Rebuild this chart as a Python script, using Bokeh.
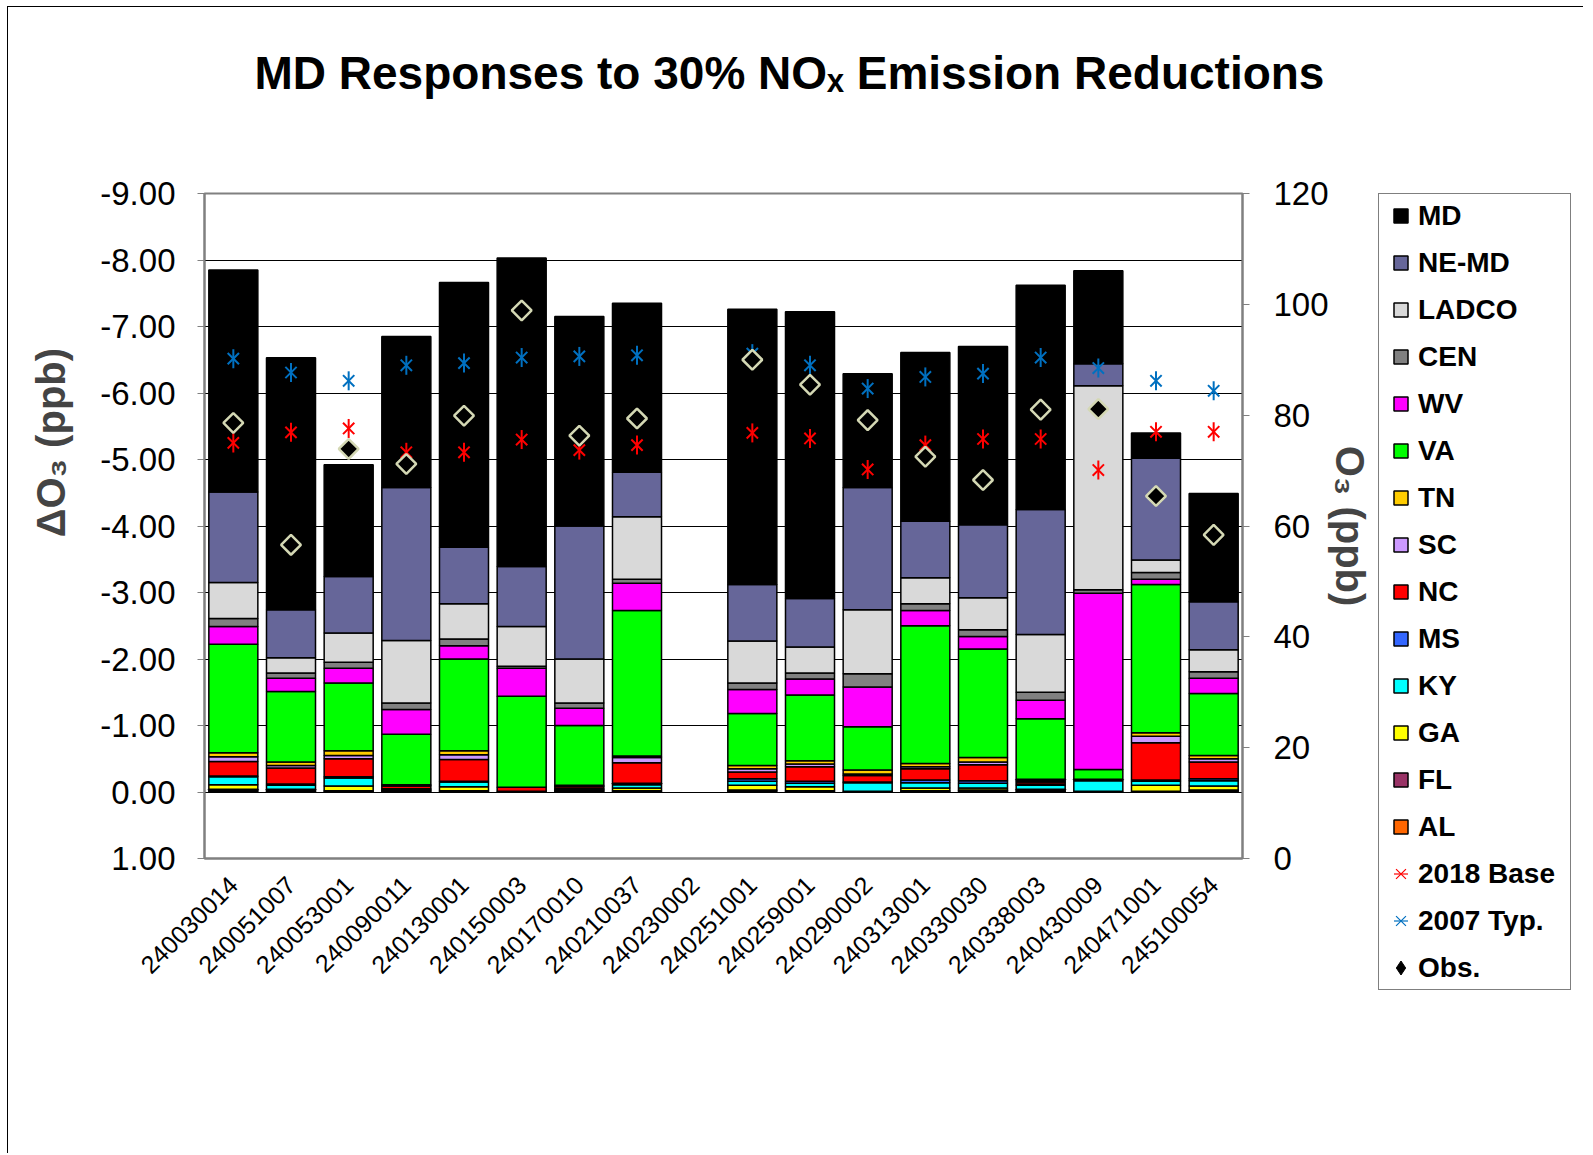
import numpy as np
from math import pi
from bokeh.plotting import figure
from bokeh.layouts import row
from bokeh.models import (Range1d, LinearAxis, Legend, LegendItem, Title,
                          NumeralTickFormatter, FixedTicker, ColumnDataSource)
from bokeh.embed import file_html
from bokeh.resources import INLINE

nan = float("nan")

stations = ["240030014", "240051007", "240053001", "240090011", "240130001", "240150003",
            "240170010", "240210037", "240230002", "240251001", "240259001", "240290002",
            "240313001", "240330030", "240338003", "240430009", "240471001", "245100054"]

# Delta O3 contributions (ppb), by source region, stacked bottom -> top
AL    = [-0.02, -0.01, -0.01, -0.01, -0.01, 0.00, -0.01, -0.01, nan, -0.02, -0.01, 0.00, -0.01, -0.02, -0.01, 0.00, -0.01, -0.02]
FL    = [-0.02, -0.01, -0.01, -0.01, -0.01, 0.00, -0.01, -0.01, nan, -0.01, -0.01, 0.00, -0.01, -0.01, -0.01, 0.00, 0.00, -0.01]
GA    = [-0.07, -0.02, -0.07, -0.01, -0.06, 0.00, -0.01, -0.04, nan, -0.07, -0.06, -0.01, -0.04, -0.03, -0.02, -0.01, -0.09, -0.06]
KY    = [-0.12, -0.06, -0.12, -0.01, -0.07, -0.01, -0.01, -0.05, nan, -0.06, -0.05, -0.13, -0.08, -0.07, -0.06, -0.16, -0.06, -0.08]
MS    = [-0.01, -0.02, -0.02, -0.01, -0.01, 0.00, -0.01, -0.02, nan, -0.04, -0.03, -0.01, -0.04, -0.04, -0.02, -0.02, -0.02, -0.03]
NC    = [-0.22, -0.24, -0.27, -0.04, -0.33, -0.06, -0.03, -0.31, nan, -0.10, -0.22, -0.10, -0.17, -0.24, -0.03, 0.00, -0.56, -0.25]
SC    = [-0.07, -0.04, -0.05, -0.01, -0.07, 0.00, -0.01, -0.08, nan, -0.05, -0.04, -0.02, -0.03, -0.04, -0.02, 0.00, -0.10, -0.05]
TN    = [-0.06, -0.05, -0.07, -0.01, -0.06, 0.00, -0.01, -0.02, nan, -0.05, -0.05, -0.06, -0.05, -0.07, -0.02, 0.00, -0.05, -0.05]
VA    = [-1.63, -1.06, -1.02, -0.76, -1.38, -1.37, -0.90, -2.19, nan, -0.78, -0.99, -0.65, -2.07, -1.63, -0.91, -0.15, -2.23, -0.93]
WV    = [-0.27, -0.20, -0.22, -0.37, -0.20, -0.42, -0.26, -0.41, nan, -0.36, -0.24, -0.60, -0.23, -0.19, -0.28, -2.65, -0.08, -0.23]
CEN   = [-0.12, -0.08, -0.09, -0.10, -0.10, -0.03, -0.08, -0.06, nan, -0.10, -0.09, -0.20, -0.10, -0.10, -0.12, -0.05, -0.10, -0.10]
LADCO = [-0.54, -0.23, -0.44, -0.94, -0.53, -0.60, -0.66, -0.94, nan, -0.63, -0.39, -0.96, -0.39, -0.48, -0.87, -3.07, -0.19, -0.33]
NEMD  = [-1.36, -0.72, -0.85, -2.30, -0.85, -0.90, -2.00, -0.67, nan, -0.85, -0.73, -1.84, -0.85, -1.10, -1.88, -0.33, -1.53, -0.72]
MD    = [-3.34, -3.79, -1.68, -2.27, -3.98, -4.64, -3.15, -2.54, nan, -4.14, -4.31, -1.71, -2.54, -2.68, -3.37, -1.40, -0.38, -1.63]

# O3 design values (ppb), right axis
base2018 = [75.0, 76.9, 77.6, 73.3, 73.3, 75.6, 73.7, 74.6, nan, 76.8, 75.8, 70.2, 74.6, 75.7, 75.7, 70.1, 77.0, 77.0]
typ2007  = [90.2, 87.7, 86.2, 89.0, 89.4, 90.4, 90.6, 90.8, nan, 91.1, 89.0, 84.8, 86.9, 87.5, 90.4, 88.5, 86.2, 84.4]
obs      = [78.6, 56.6, 73.9, 71.2, 79.9, 98.9, 76.3, 79.4, nan, 90.0, 85.5, 79.1, 72.5, 68.3, 81.0, 81.1, 65.4, 58.4]

regions = ["AL", "FL", "GA", "KY", "MS", "NC", "SC", "TN", "VA", "WV", "CEN", "LADCO", "NEMD", "MD"]
region_labels = {"NEMD": "NE-MD"}
region_colors = ["#FF6600", "#993366", "#FFFF00", "#00FFFF", "#3366FF", "#FF0000", "#CC99FF",
                 "#FFCC00", "#00FF00", "#FF00FF", "#808080", "#D9D9D9", "#666699", "#000000"]

left_ticks = [1, 0, -1, -2, -3, -4, -5, -6, -7, -8, -9]
right_ticks = [0, 20, 40, 60, 80, 100, 120]

FONT = "Liberation Sans"
RED = "#FF0000"
BLUE = "#0070C0"
DIAM_EDGE = "#D4D8B4"

src = ColumnDataSource(data=dict(
    station=stations,
    AL=np.array(AL), FL=np.array(FL), GA=np.array(GA), KY=np.array(KY), MS=np.array(MS),
    NC=np.array(NC), SC=np.array(SC), TN=np.array(TN), VA=np.array(VA), WV=np.array(WV),
    CEN=np.array(CEN), LADCO=np.array(LADCO), NEMD=np.array(NEMD), MD=np.array(MD),
    base=np.array(base2018), typ=np.array(typ2007), obs=np.array(obs)))

# ---------------- main chart ----------------
p = figure(x_range=stations, y_range=Range1d(1, -9), frame_width=1037, frame_height=664,
           output_backend="svg", toolbar_location=None, title_location=None,
           min_border_left=196, min_border_right=137, min_border_top=186, min_border_bottom=296)
p.styles = {"margin-left": "7px", "margin-top": "6px",
            "border-left": "1px solid black", "border-top": "1px solid black"}
p.extra_y_ranges = {"o3": Range1d(0, 120)}
p.outline_line_color = "#808080"
p.outline_line_width = 2
p.background_fill_color = "white"
p.border_fill_color = "white"

# spacer panel between frame and title, then the title (NOx with subscript x)
p.add_layout(Title(text="\u00a0", text_font_size="8px", standoff=84), "above")
p.add_layout(Title(text="MD Responses to 30% NOₓ Emission Reductions", text_font=FONT,
                   text_font_style="bold", text_font_size="46px", text_color="black",
                   align="left", offset=50, standoff=0), "above")

# grid
p.xgrid.visible = False
p.ygrid.ticker = FixedTicker(ticks=left_ticks)
p.ygrid.grid_line_color = "black"
p.ygrid.grid_line_width = 1

# left axis
ly = p.yaxis[0]
ly.ticker = FixedTicker(ticks=left_ticks)
ly.formatter = NumeralTickFormatter(format="0.00")
ly.axis_label = "\u00a0" * 15 + "ΔO₃ (ppb)"
ly.axis_label_text_font = FONT
ly.axis_label_text_font_style = "bold"
ly.axis_label_text_font_size = "40px"
ly.axis_label_standoff = 24
ly.major_label_text_font = FONT
ly.major_label_text_font_size = "33px"
ly.major_label_text_color = "black"
ly.major_label_standoff = 22
ly.major_tick_out = 7
ly.major_tick_in = 0
ly.minor_tick_line_color = None
ly.axis_line_color = "#808080"
ly.axis_line_width = 2
ly.major_tick_line_color = "#808080"

# right axis
ry = LinearAxis(y_range_name="o3", ticker=FixedTicker(ticks=right_ticks), axis_label="O₃ (ppb)")
ry.axis_label_text_font = FONT
ry.axis_label_text_font_style = "bold"
ry.axis_label_text_font_size = "40px"
ry.axis_label_standoff = -4
ry.major_label_text_font = FONT
ry.major_label_text_font_size = "33px"
ry.major_label_text_color = "black"
ry.major_label_standoff = 24
ry.major_tick_out = 7
ry.major_tick_in = 0
ry.minor_tick_line_color = None
ry.axis_line_color = "#808080"
ry.axis_line_width = 2
ry.major_tick_line_color = "#808080"
p.add_layout(ry, "right")

# x axis
xa = p.xaxis[0]
xa.major_label_orientation = pi / 4
xa.major_label_text_font = FONT
xa.major_label_text_font_size = "25px"
xa.major_label_text_color = "black"
xa.major_label_standoff = 16
xa.major_tick_line_color = None
xa.axis_line_color = "#808080"
xa.axis_line_width = 2

# stacked bars
p.vbar_stack(regions, x="station", width=0.85, source=src,
             fill_color=region_colors, line_color="black", line_width=1.5)

# markers on right axis (asterisk = x + vertical dash)
p.scatter("station", "base", source=src, y_range_name="o3", marker="x", size=16,
          line_color=RED, line_width=2)
p.scatter("station", "base", source=src, y_range_name="o3", marker="dash", angle=pi / 2,
          size=19, line_color=RED, line_width=2)
p.scatter("station", "typ", source=src, y_range_name="o3", marker="x", size=16,
          line_color=BLUE, line_width=2)
p.scatter("station", "typ", source=src, y_range_name="o3", marker="dash", angle=pi / 2,
          size=19, line_color=BLUE, line_width=2)
p.scatter("station", "obs", source=src, y_range_name="o3", marker="square", angle=pi / 4,
          size=14, fill_color="black", line_color=DIAM_EDGE, line_width=2.5)

# ---------------- legend panel ----------------
lp = figure(width=205, height=1146, x_range=Range1d(0, 1), y_range=Range1d(0, 1),
            output_backend="svg", toolbar_location=None, title_location=None,
            x_axis_type=None, y_axis_type=None,
            min_border_left=0, min_border_right=0, min_border_top=180, min_border_bottom=40)
lp.styles = {"margin-top": "6px", "border-top": "1px solid black"}
lp.outline_line_color = None
lp.grid.visible = False
lp.background_fill_color = "white"
lp.border_fill_color = "white"

items = []
for name, col in reversed(list(zip(regions, region_colors))):
    sw = lp.scatter(x=[nan], y=[nan], marker="square", size=14, fill_color=col,
                    line_color="black", line_width=1.5)
    items.append(LegendItem(label=region_labels.get(name, name), renderers=[sw]))
for lab, col in (("2018 Base", RED), ("2007 Typ.", BLUE)):
    a = lp.scatter(x=[nan], y=[nan], marker="x", size=14, line_color=col, line_width=1.2)
    b = lp.scatter(x=[nan], y=[nan], marker="dash", angle=pi / 2, size=14, line_color=col,
                   line_width=1.2)
    items.append(LegendItem(label=lab, renderers=[a, b]))
o = lp.scatter(x=[nan], y=[nan], marker="diamond", size=14, fill_color="black",
               line_color="black", line_width=1)
items.append(LegendItem(label="Obs.", renderers=[o]))

legend = Legend(items=items, location="top_left", glyph_width=35, glyph_height=35,
                label_height=33, label_width=148, spacing=12, padding=4, label_standoff=0,
                margin=0, border_line_color="black", border_line_width=1,
                label_text_font=FONT, label_text_font_style="bold",
                label_text_font_size="28px", label_text_color="black",
                background_fill_color="white", background_fill_alpha=1)
lp.add_layout(legend, "left")

layout = row(p, lp)
open("out.html", "w").write(file_html(layout, INLINE))
